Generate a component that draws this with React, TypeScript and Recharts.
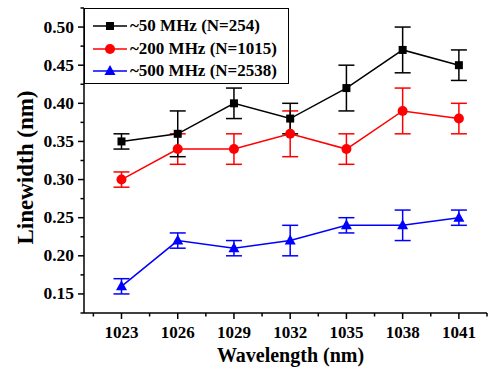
import React from 'react';
import { ComposedChart, Line, XAxis, YAxis, ErrorBar } from 'recharts';

const wavelengths = [1023, 1026, 1029, 1032, 1035, 1038, 1041];
const lw50 = [0.35, 0.36, 0.40, 0.38, 0.42, 0.47, 0.45];
const err50 = [0.01, 0.03, 0.02, 0.02, 0.03, 0.03, 0.02];
const lw200 = [0.30, 0.34, 0.34, 0.36, 0.34, 0.39, 0.38];
const err200 = [0.01, 0.02, 0.02, 0.03, 0.02, 0.03, 0.02];
const lw500 = [0.16, 0.22, 0.21, 0.22, 0.24, 0.24, 0.25];
const err500 = [0.01, 0.01, 0.01, 0.02, 0.01, 0.02, 0.01];

const seriesNames = ['~50 MHz (N=254)', '~200 MHz (N=1015)', '~500 MHz (N=2538)'];

const xMajor = [1023, 1026, 1029, 1032, 1035, 1038, 1041];
const xTicks = [1021.5, 1023, 1024.5, 1026, 1027.5, 1029, 1030.5, 1032, 1033.5, 1035, 1036.5, 1038, 1039.5, 1041, 1042.5];
const yMajor = [0.15, 0.2, 0.25, 0.3, 0.35, 0.4, 0.45, 0.5];
const yTicks = [0.125, 0.15, 0.175, 0.2, 0.225, 0.25, 0.275, 0.3, 0.325, 0.35, 0.375, 0.4, 0.425, 0.45, 0.475, 0.5, 0.525];

const data = wavelengths.map((w, i) => ({
  w,
  a: lw50[i], ae: err50[i],
  b: lw200[i], be: err200[i],
  c: lw500[i], ce: err500[i],
}));

const FONT = 'Liberation Serif';
const isMajor = (arr: number[], v: number) => arr.some((m) => Math.abs(m - v) < 1e-6);

const BottomTick = (p: any) => {
  const { x, y, payload } = p;
  const major = isMajor(xMajor, payload.value);
  return (
    <g>
      <line x1={x} x2={x} y1={y} y2={y + (major ? 6 : 3.5)} stroke="#000" strokeWidth={1.5} />
      {major && (
        <text x={x} y={y + 25} textAnchor="middle" fontFamily={FONT} fontWeight="bold" fontSize={17} fill="#000">
          {payload.value}
        </text>
      )}
    </g>
  );
};
const TopTick = (p: any) => {
  const { x, y, payload } = p;
  const major = isMajor(xMajor, payload.value);
  return <line x1={x} x2={x} y1={y} y2={y + (major ? 6 : 3.5)} stroke="#000" strokeWidth={1.5} />;
};
const LeftTick = (p: any) => {
  const { x, y, payload } = p;
  const major = isMajor(yMajor, payload.value);
  return (
    <g>
      <line x1={x} x2={x - (major ? 6 : 3.5)} y1={y} y2={y} stroke="#000" strokeWidth={1.5} />
      {major && (
        <text x={x - 10} y={y + 5.5} textAnchor="end" fontFamily={FONT} fontWeight="bold" fontSize={17.5} fill="#000">
          {payload.value.toFixed(2)}
        </text>
      )}
    </g>
  );
};
const RightTick = (p: any) => {
  const { x, y, payload } = p;
  const major = isMajor(yMajor, payload.value);
  return <line x1={x} x2={x - (major ? 6 : 3.5)} y1={y} y2={y} stroke="#000" strokeWidth={1.5} />;
};

const Square = (p: any) => {
  const { cx, cy, fill } = p;
  if (cx == null || cy == null) return null;
  return <rect x={cx - 4} y={cy - 4} width={8} height={8} fill={fill} />;
};
const Circle = (p: any) => {
  const { cx, cy, fill } = p;
  if (cx == null || cy == null) return null;
  return <circle cx={cx} cy={cy} r={5} fill={fill} />;
};
const Tri = (p: any) => {
  const { cx, cy, fill } = p;
  if (cx == null || cy == null) return null;
  return <polygon points={`${cx},${cy - 6} ${cx - 5.5},${cy + 4} ${cx + 5.5},${cy + 4}`} fill={fill} />;
};

const colors = ['#000000', '#ff0000', '#0000ff'];
const markers = [Square, Circle, Tri];

export default function App() {
  return (
    <div style={{ position: 'absolute', left: 0, top: 0, width: 497, height: 373 }}>
      <ComposedChart width={497} height={373} data={data} margin={{ top: 8, right: 10, bottom: 0, left: 0 }}>
        <XAxis
          dataKey="w"
          type="number"
          domain={[1021, 1042.5]}
          ticks={xTicks}
          interval={0}
          height={60}
          tickSize={0}
          tickMargin={0}
          tickLine={false}
          axisLine={{ stroke: '#000', strokeWidth: 1.5 }}
          tick={<BottomTick />}
          allowDataOverflow
          label={{
            content: (props: any) => {
              const vb = props.viewBox;
              return (
                <text x={vb.x + vb.width / 2 + 5} y={vb.y + 49} textAnchor="middle" fontFamily={FONT} fontWeight="bold" fontSize={20} fill="#000">
                  Wavelength (nm)
                </text>
              );
            },
          }}
        />
        <XAxis
          xAxisId="top"
          orientation="top"
          dataKey="w"
          type="number"
          domain={[1021, 1042.5]}
          ticks={xTicks}
          interval={0}
          height={0}
          tickSize={0}
          tickMargin={0}
          tickLine={false}
          axisLine={{ stroke: '#000', strokeWidth: 1.5 }}
          tick={<TopTick />}
          allowDataOverflow
        />
        <YAxis
          type="number"
          domain={[0.125, 0.525]}
          ticks={yTicks}
          interval={0}
          width={84}
          tickSize={0}
          tickMargin={0}
          tickLine={false}
          axisLine={{ stroke: '#000', strokeWidth: 1.5 }}
          tick={<LeftTick />}
          allowDataOverflow
          label={{
            content: (props: any) => {
              const vb = props.viewBox;
              const cx = 25;
              const cy = vb.y + vb.height / 2 + 7;
              return (
                <text x={cx} y={cy} transform={`rotate(-90 ${cx} ${cy})`} textAnchor="middle" dominantBaseline="central" fontFamily={FONT} fontWeight="bold" fontSize={23} fill="#000">
                  Linewidth (nm)
                </text>
              );
            },
          }}
        />
        <YAxis
          yAxisId="right"
          orientation="right"
          type="number"
          domain={[0.125, 0.525]}
          ticks={yTicks}
          interval={0}
          width={0}
          tickSize={0}
          tickMargin={0}
          tickLine={false}
          axisLine={{ stroke: '#000', strokeWidth: 1.5 }}
          tick={<RightTick />}
          allowDataOverflow
        />
        <Line dataKey="c" stroke={colors[2]} strokeWidth={1.5} fill={colors[2]} dot={<Tri />} activeDot={false} isAnimationActive={false}>
          <ErrorBar dataKey="ce" direction="y" width={8} stroke={colors[2]} strokeWidth={1.5} />
        </Line>
        <Line dataKey="b" stroke={colors[1]} strokeWidth={1.5} fill={colors[1]} dot={<Circle />} activeDot={false} isAnimationActive={false}>
          <ErrorBar dataKey="be" direction="y" width={8} stroke={colors[1]} strokeWidth={1.5} />
        </Line>
        <Line dataKey="a" stroke={colors[0]} strokeWidth={1.5} fill={colors[0]} dot={<Square />} activeDot={false} isAnimationActive={false}>
          <ErrorBar dataKey="ae" direction="y" width={8} stroke={colors[0]} strokeWidth={1.5} />
        </Line>
      </ComposedChart>
      <div
        style={{
          position: 'absolute',
          left: 84,
          top: 8,
          width: 205,
          height: 76,
          border: '1.5px solid #000',
          boxSizing: 'border-box',
          background: '#fff',
        }}
      >
        {seriesNames.map((name, i) => {
          const M = markers[i];
          return (
            <div key={name} style={{ position: 'absolute', left: 0, top: 6 + i * 22.5, height: 22, display: 'flex', alignItems: 'center' }}>
              <svg width={44} height={22} style={{ display: 'block' }}>
                <line x1={8} x2={42} y1={11} y2={11} stroke={colors[i]} strokeWidth={1.5} />
                <M cx={25} cy={11} fill={colors[i]} />
              </svg>
              <span style={{ fontFamily: FONT, fontWeight: 'bold', fontSize: 17, color: '#000', whiteSpace: 'nowrap', marginLeft: 1 }}>
                {name}
              </span>
            </div>
          );
        })}
      </div>
    </div>
  );
}
